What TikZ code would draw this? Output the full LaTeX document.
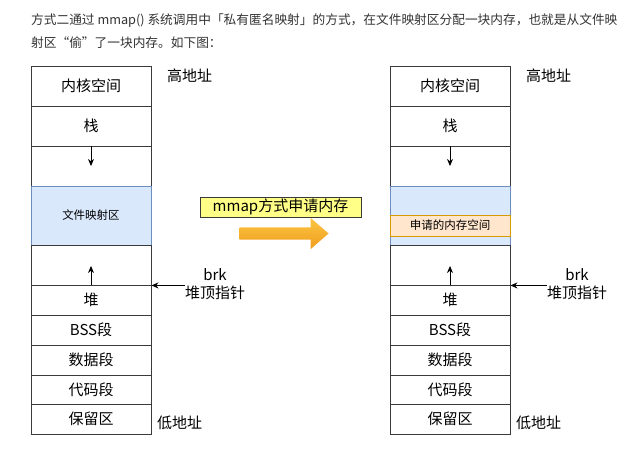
\documentclass[tikz,border=0pt]{standalone}
\usepackage{fontspec}
\setmainfont{Noto Sans CJK SC}
\usetikzlibrary{shapes.arrows,arrows.meta}

\definecolor{txt}{HTML}{333333}
\definecolor{segline}{HTML}{3A3A3A}
\definecolor{mapfill}{HTML}{DAE8FC}
\definecolor{mapdraw}{HTML}{6C8EBF}
\definecolor{reqfill}{HTML}{FFE6CC}
\definecolor{reqdraw}{HTML}{D79B00}
\definecolor{tagfill}{HTML}{FFFF88}
\definecolor{arrtop}{HTML}{FCC544}
\definecolor{arrbot}{HTML}{F09D1C}

\begin{document}
\begin{tikzpicture}[x=1pt,y=-1pt,
	seg/.style={draw=segline,line width=0.9pt,minimum width=120pt,inner sep=0pt,font=\fontsize{15}{15}\selectfont},
	map/.style={seg,draw=mapdraw,fill=mapfill,font=\fontsize{11.5}{11.5}\selectfont},
	req/.style={draw=reqdraw,line width=0.9pt,fill=reqfill,minimum width=120pt,minimum height=21pt,inner sep=0pt,font=\fontsize{11.5}{11.5}\selectfont},
	lbl/.style={inner sep=0pt,font=\fontsize{15}{18}\selectfont},
	ptr/.style={-{Stealth[length=7pt,width=6pt]},draw=black,line width=0.9pt},
	head/.style={anchor=west,inner sep=0pt,text=txt,font=\fontsize{12.7}{15}\selectfont}]
	
	\path[use as bounding box,fill=white] (0,0) rectangle (641,450);
	
	\node[head] (line1) at (31,21) {方式二通过 mmap() 系统调用中「私有匿名映射」的方式，在文件映射区分配一块内存，也就是从文件映};
	\node[head] (line2) at (31,43) {射区“偷”了一块内存。如下图：};
	
	\node[seg,minimum height=40pt] (lkern) at (91,86) {内核空间};
	\node[seg,minimum height=40pt] (lstack) at (91,126) {栈};
	\node[seg,minimum height=40pt] (lgap1) at (91,166) {};
	\node[map,minimum height=59pt] (lmap) at (91,215.5) {文件映射区};
	\node[seg,minimum height=40pt] (lgap2) at (91,265) {};
	\node[seg,minimum height=30pt] (lheap) at (91,300) {堆};
	\node[seg,minimum height=30pt] (lbss) at (91,330) {BSS段};
	\node[seg,minimum height=30pt] (ldata) at (91,360) {数据段};
	\node[seg,minimum height=29pt] (lcode) at (91,389.5) {代码段};
	\node[seg,minimum height=30pt] (lres) at (91,419) {保留区};
	
	\node[lbl,anchor=west] (lhigh) at (167,76) {高地址};
	\node[lbl,anchor=west] (llow) at (157,423) {低地址};
	\node[lbl,align=center] (lbrk) at (215,284) {brk\\堆顶指针};
	
	\coordinate (ldown) at (91,166);
	\coordinate (lup) at (91,266);
	\draw[ptr] (lgap1.north) -- (ldown);
	\draw[ptr] (lgap2.south) -- (lup);
	\draw[ptr] (lbrk.west |- lgap2.south) -- (lgap2.south east);
	
	\node[draw=segline,line width=0.8pt,fill=tagfill,minimum width=161pt,minimum height=20pt,inner sep=0pt,font=\fontsize{15}{15}\selectfont] (tag) at (280.5,207) {mmap方式申请内存};
	\node[single arrow,top color=arrtop,bottom color=arrbot,inner sep=6pt,minimum height=89pt,single arrow head extend=9.5pt,single arrow tip angle=82] (bigarrow) at (280.5,233.5) {};
	
	\node[seg,minimum height=40pt] (rkern) at (450,86) {内核空间};
	\node[seg,minimum height=40pt] (rstack) at (450,126) {栈};
	\node[seg,minimum height=40pt] (rgap1) at (450,166) {};
	\node[map,minimum height=59pt] (rmap) at (450,215.5) {};
	\node[req] (rreq) at (450,225.5) {申请的内存空间};
	\node[seg,minimum height=40pt] (rgap2) at (450,265) {};
	\node[seg,minimum height=30pt] (rheap) at (450,300) {堆};
	\node[seg,minimum height=30pt] (rbss) at (450,330) {BSS段};
	\node[seg,minimum height=30pt] (rdata) at (450,360) {数据段};
	\node[seg,minimum height=29pt] (rcode) at (450,389.5) {代码段};
	\node[seg,minimum height=30pt] (rres) at (450,419) {保留区};
	
	\node[lbl,anchor=west] (rhigh) at (526,76) {高地址};
	\node[lbl,anchor=west] (rlow) at (516,423) {低地址};
	\node[lbl,align=center] (rbrk) at (577,284) {brk\\堆顶指针};
	
	\coordinate (rdown) at (450,166);
	\coordinate (rup) at (450,266);
	\draw[ptr] (rgap1.north) -- (rdown);
	\draw[ptr] (rgap2.south) -- (rup);
	\draw[ptr] (rbrk.west |- rgap2.south) -- (rgap2.south east);
\end{tikzpicture}
\end{document}
